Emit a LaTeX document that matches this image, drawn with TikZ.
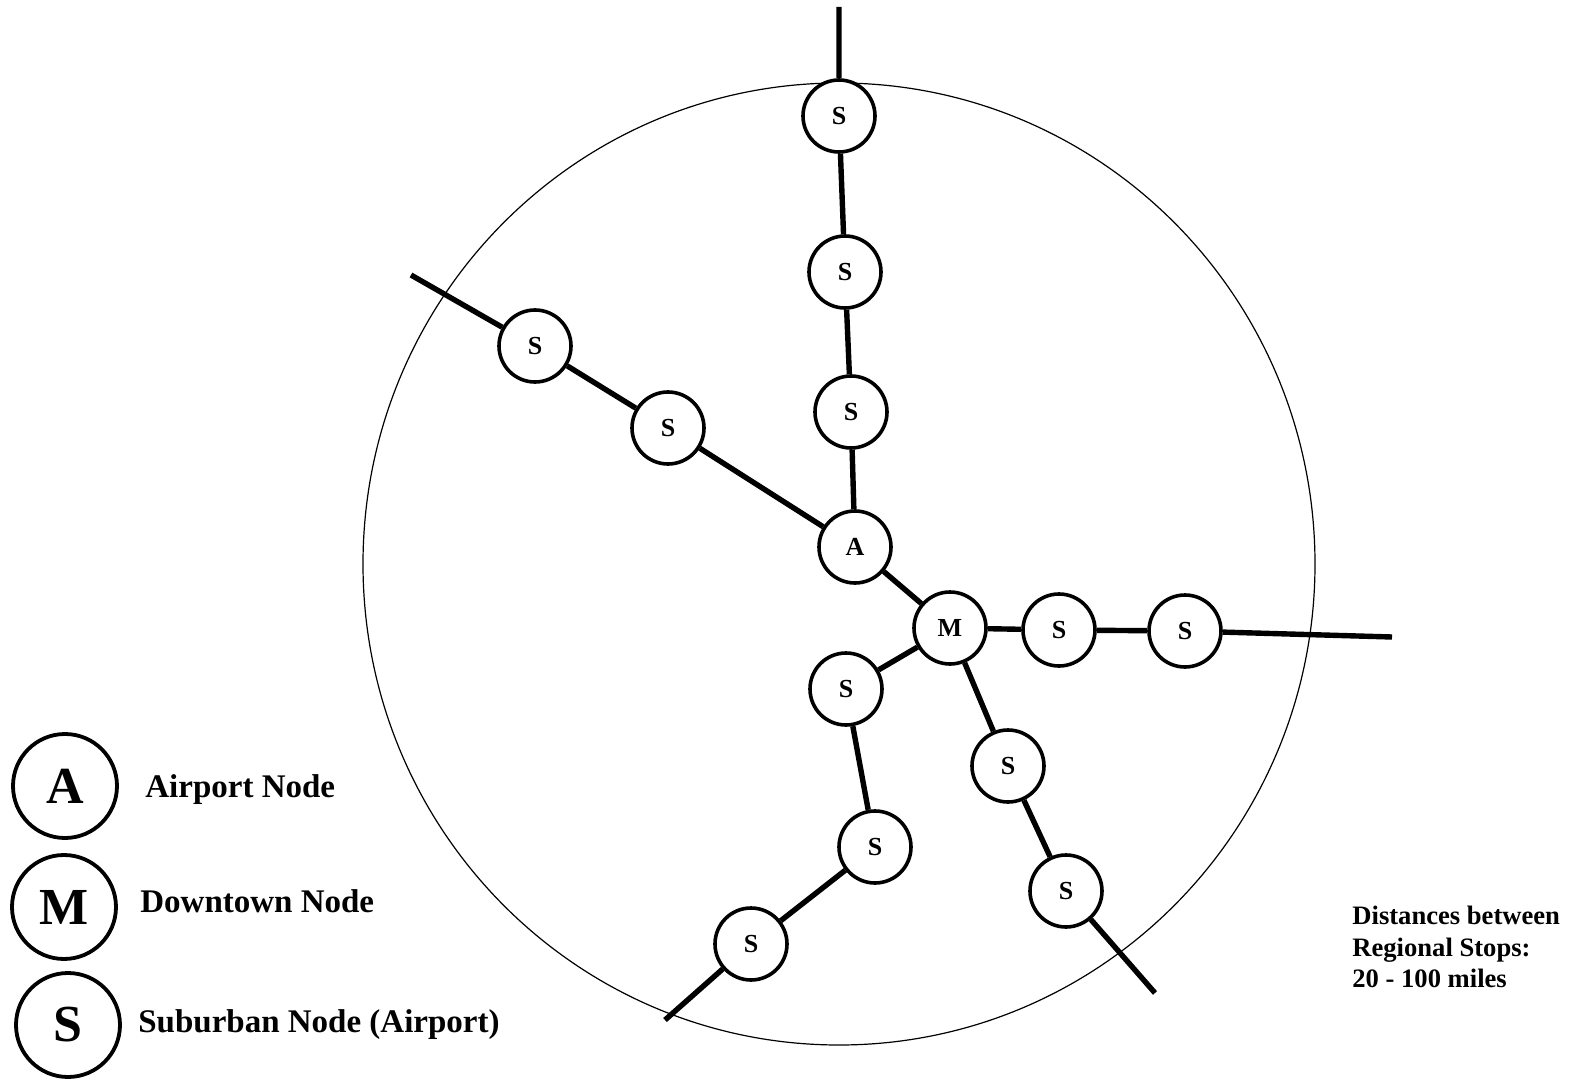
\documentclass[tikz,border=0pt]{standalone}
\usepackage{fontspec}
\setmainfont{Liberation Serif}
\begin{document}
\begin{tikzpicture}[
  x=0.5pt, y=-0.5pt,
  rsring/.style = {line width=0.6pt},
  rslink/.style = {line width=2.7pt},
  rsstop/.style = {circle, draw, line width=1.8pt, fill=white, minimum size=36pt,
    inner sep=0pt, font=\fontsize{13}{13}\selectfont\bfseries},
  rskey/.style = {circle, draw, line width=1.9pt, minimum size=52pt,
    inner sep=0pt, font=\fontsize{26}{26}\selectfont\bfseries},
  rslbl/.style = {anchor=base west, inner sep=0pt, font=\fontsize{16.5}{18}\selectfont\bfseries}
]
  \useasboundingbox (0,0) rectangle (1576,1081);
  % region boundary
  \draw[rsring] (839,564) circle[x radius=476, y radius=481];
  % hub nodes
  \node[rsstop] (A) at (855,547) {A};
  \node[rsstop] (M) at (950,628) {M};
  % north line
  \coordinate (nEnd) at (839,7);
  \node[rsstop] (n1) at (839,116) {S};
  \node[rsstop] (n2) at (845,272) {S};
  \node[rsstop] (n3) at (851,412) {S};
  % north-west line
  \coordinate (wEnd) at (411,275);
  \node[rsstop] (w1) at (535,346) {S};
  \node[rsstop] (w2) at (668,428) {S};
  % east line
  \node[rsstop] (e1) at (1059,630) {S};
  \node[rsstop] (e2) at (1185,631) {S};
  \coordinate (eEnd) at (1392,637);
  % south-west line
  \node[rsstop] (s1) at (846,689) {S};
  \node[rsstop] (s2) at (875,847) {S};
  \node[rsstop] (s3) at (751,944) {S};
  \coordinate (sEnd) at (665,1020);
  % south-east line
  \node[rsstop] (t1) at (1008,766) {S};
  \node[rsstop] (t2) at (1066,891) {S};
  \coordinate (tEnd) at (1155,993);
  % links
  \draw[rslink] (nEnd) -- (n1) -- (n2) -- (n3) -- (A) -- (M);
  \draw[rslink] (wEnd) -- (w1) -- (w2) -- (A);
  \draw[rslink] (M) -- (e1) -- (e2) -- (eEnd);
  \draw[rslink] (M) -- (s1) -- (s2) -- (s3) -- (sEnd);
  \draw[rslink] (M) -- (t1) -- (t2) -- (tEnd);
  % legend
  \node[rskey] (keyA) at (65,786) {A};
  \node[rskey] (keyM) at (64,907) {M};
  \node[rskey] (keyS) at (68,1025) {S};
  \node[rslbl] (lblA) at (145,797) {Airport Node};
  \node[rslbl] (lblM) at (140,912) {Downtown Node};
  \node[rslbl] (lblS) at (138,1032) {Suburban Node (Airport)};
  % distance note
  \node[anchor=west, align=left, inner sep=0pt,
    font=\fontsize{13.3}{15.8}\selectfont\bfseries] (note) at (1352,947)
    {Distances between\\Regional Stops:\\20 - 100 miles};
\end{tikzpicture}
\end{document}
